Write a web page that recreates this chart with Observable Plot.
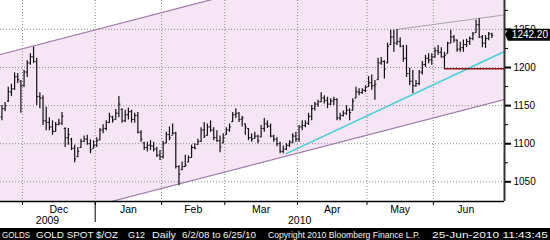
<!DOCTYPE html>
<html><head><meta charset="utf-8">
<script src="https://cdn.jsdelivr.net/npm/d3@7"></script>
<script src="https://cdn.jsdelivr.net/npm/@observablehq/plot@0.6"></script>
<style>
html,body{margin:0;padding:0;background:#fff;}
#wrap{position:relative;width:550px;height:240px;overflow:hidden;font-family:"Liberation Sans",Arial,sans-serif;}
#chart{position:absolute;left:0;top:0;}
#footer{position:absolute;left:0;top:228px;width:550px;height:12px;background:#000;}
</style></head><body>
<div id="wrap"><div id="chart"></div>
<svg id="footer" width="550" height="12"></svg>
</div>
<script>
// Daily OHLC, gold spot, first bar = 20 Nov 2009 (trading-day index -7, 0 = 1 Dec 2009)
const firstIndex = -7;
const opens = [1135,1146,1156,1168,1172,1188,1182,1176,1194,1206,1214,1208,1162,1160,1130,1128,1122,1116,1125,1127,1120,1108,1106,1094,1083,1095,1103,1106,1100,1094,
1098,1105,1118,1120,1128,1135,1132,1140,1145,1130,1138,1142,1132,1137,1115,1101,1095,1098,1097,1093,1085,1083,
1101,1112,1111,1114,1070,1066,1070,1076,1082,1095,1099,1103,1118,1111,1122,1118,1108,1104,1101,
1112,1118,1129,1138,1140,1132,1126,1120,1108,1107,1110,1109,1120,1126,1123,1110,1106,1100,1090,1093,1098,1102,1110,
1106,1122,1124,1127,1136,1146,1152,1155,1160,1157,1152,1156,1158,1134,1137,1140,1144,1144,1160,1168,1167,1170,
1175,1180,1176,1184,1206,1208,1206,1230,1240,1232,1234,1228,1212,1192,1182,1176,1179,1194,1204,1212,1210,
1214,1222,1220,1214,1218,1232,1240,1236,1224,1226,1230,1234,1238,1246,1256,1240,1232,1238,1244];
const highs = [1150,1154,1174,1178,1193,1192,1183,1196,1209,1218,1227,1212,1167,1163,1148,1134,1130,1128,1132,1141,1121,1120,1107,1098,1095,1106,1110,1111,1105,1104,
1108,1120,1125,1130,1140,1136,1145,1162,1146,1144,1147,1144,1140,1141,1117,1102,1102,1104,1102,1095,1091,
1103,1115,1122,1126,1115,1071,1076,1085,1084,1098,1100,1106,1121,1128,1126,1130,1121,1117,1110,1113,
1121,1126,1141,1146,1141,1136,1126,1120,1113,1115,1111,1124,1133,1130,1126,1111,1108,1102,1097,1100,1104,1113,1115,
1124,1130,1130,1140,1150,1154,1157,1167,1163,1161,1159,1161,1159,1140,1143,1150,1146,1159,1174,1172,1172,1176,
1188,1190,1183,1212,1213,1209,1232,1249,1249,1250,1239,1229,1229,1199,1196,1183,1196,1208,1216,1218,1218,
1226,1229,1226,1220,1233,1249,1242,1236,1233,1236,1237,1240,1246,1262,1264,1242,1242,1246,1245];
const lows = [1130,1142,1154,1162,1170,1179,1140,1174,1187,1203,1205,1150,1146,1124,1117,1117,1111,1115,1124,1124,1095,1098,1091,1075,1082,1094,1102,1098,1087,1093,
1095,1104,1113,1117,1127,1127,1131,1134,1127,1128,1131,1127,1127,1113,1102,1091,1089,1091,1089,1082,1078,
1080,1100,1104,1111,1067,1045,1065,1069,1075,1081,1092,1098,1102,1107,1110,1115,1104,1102,1088,1100,
1111,1115,1128,1133,1128,1122,1111,1104,1102,1106,1100,1108,1115,1120,1108,1102,1096,1087,1087,1091,1095,1100,1102,
1102,1117,1121,1124,1130,1143,1148,1154,1152,1146,1150,1150,1130,1130,1135,1137,1130,1143,1159,1163,1165,1167,
1174,1170,1157,1183,1203,1185,1205,1229,1220,1229,1226,1207,1187,1176,1166,1174,1176,1190,1200,1205,1203,
1212,1216,1212,1198,1218,1231,1232,1220,1220,1220,1226,1229,1235,1245,1238,1226,1225,1235,1238];
const closes = [1146,1150,1168,1172,1188,1184,1176,1194,1206,1214,1208,1162,1160,1130,1128,1122,1116,1125,1127,1136,1108,1112,1094,1080,1090,1103,1106,1100,1092,1098,
1104,1118,1120,1128,1136,1131,1140,1152,1130,1138,1142,1132,1137,1115,1106,1095,1098,1097,1093,1085,1083,
1100,1112,1108,1114,1070,1060,1070,1072,1082,1095,1094,1103,1118,1110,1122,1118,1108,1104,1096,1108,
1118,1122,1138,1140,1132,1134,1122,1108,1106,1110,1104,1120,1126,1123,1110,1106,1100,1090,1093,1098,1102,1110,1106,
1122,1124,1127,1136,1146,1152,1155,1160,1157,1152,1156,1158,1134,1137,1140,1144,1141,1156,1168,1167,1170,1174,
1180,1176,1178,1206,1208,1198,1228,1240,1232,1234,1228,1212,1192,1182,1176,1179,1194,1204,1212,1210,1214,
1222,1220,1214,1216,1232,1240,1236,1224,1226,1230,1234,1238,1244,1256,1240,1232,1238,1244,1242.2];
const lastValue = 1242.20;

// axis labels
const monthStart = [0, 23, 44, 64, 87, 109, 130];
const monthEnd = [23, 44, 64, 87, 109, 130, 150.5];
const monthLabels = ["Dec", "Jan", "Feb", "Mar", "Apr", "May", "Jun"];
const yearLabels = ["2009", "2010"];
const yearPos = [7.9, 87.7];
const yearBoundary = 23;
const yTicks = [1050, 1100, 1150, 1200, 1250];
const yMinor = [1075, 1125, 1175, 1225, 1275];

// footer strip texts
const footerTexts = ["GOLDS", "GOLD SPOT $/OZ", "G12", "Daily", "6/2/08 to 6/25/10", "Copyright 2010 Bloomberg Finance L.P.", "25-Jun-2010 11:43:45"];
const footerLeft = [2, 36, 128, 152, 182, 268, 432];
const footerWidth = [28, 82, 17, 24, 74, 152, 116];

// trend lines (drawn on the chart)
const channelX = [-6.96, 152.5];
const channelUpper = [1217, 1389];
const channelLower = [986.5, 1158];
const resistX = [118.5, 152.5], resistY = [1250, 1269];
const supportX = [83.5, 152.5], supportY = [1087, 1221];
const floorX = [133.5, 152.5], floorY = [1198.5, 1198.5];

const xDomain = [-6.96, 152.5];
const yDomain = [1024.2, 1287.9];
const halfTick = 0.45;

const bars = highs.map((h, k) => ({xc: firstIndex + k + 0.5, open: opens[k], high: h, low: lows[k], close: closes[k]}));
const channel = channelX.map((x, k) => ({x, upper: channelUpper[k], lower: channelLower[k]}));
const pts = (xs, ys) => xs.map((x, k) => ({x, y: ys[k]}));
const monthMid = monthStart.map((s, k) => (s + monthEnd[k]) / 2);
const monthMap = new Map(monthMid.map((m, k) => [m, monthLabels[k]]));
const yearMap = new Map(yearPos.map((p, k) => [p, yearLabels[k]]));
const grid = {stroke: "#8c8c8c", strokeOpacity: 1, strokeDasharray: "1,2", strokeWidth: 1};

const chart = Plot.plot({
  width: 550, height: 228,
  marginLeft: 0, marginRight: 46, marginTop: 0, marginBottom: 27,
  x: {type: "linear", domain: xDomain},
  y: {type: "linear", domain: yDomain},
  style: {fontFamily: "Liberation Sans, Arial, sans-serif", fontSize: "10px", color: "#000", background: "#fff"},
  marks: [
    Plot.areaY(channel, {x: "x", y1: "lower", y2: "upper", fill: "#f5e5f5", clip: true}),
    Plot.gridY(yTicks, grid),
    Plot.gridX(monthStart, grid),
    Plot.line(channel, {x: "x", y: "upper", stroke: "#9d7aa8", strokeWidth: 1.2, clip: true}),
    Plot.line(channel, {x: "x", y: "lower", stroke: "#9d7aa8", strokeWidth: 1.2, clip: true}),
    Plot.line(pts(resistX, resistY), {x: "x", y: "y", stroke: "#a6a6a6", strokeWidth: 1}),
    Plot.line(pts(supportX, supportY), {x: "x", y: "y", stroke: "#45cfd6", strokeWidth: 1.5}),
    Plot.line(pts(floorX, floorY), {x: "x", y: "y", stroke: "#8e1414", strokeWidth: 1.5}),
    Plot.ruleX(bars, {x: "xc", y1: "low", y2: "high", stroke: "#111", strokeWidth: 1.2}),
    Plot.link(bars, {x1: d => d.xc - halfTick, x2: "xc", y1: "open", y2: "open", stroke: "#111", strokeWidth: 1}),
    Plot.link(bars, {x1: "xc", x2: d => d.xc + halfTick, y1: "close", y2: "close", stroke: "#111", strokeWidth: 1}),
    Plot.ruleY([yDomain[0]], {stroke: "#000", strokeWidth: 1.5}),
    Plot.ruleX([xDomain[1]], {stroke: "#333", strokeWidth: 2}),
    Plot.axisY({anchor: "right", ticks: yTicks, tickSize: 6, tickPadding: 3, strokeWidth: 2, fontSize: 10, label: null, tickFormat: d => String(d)}),
    Plot.axisY({anchor: "right", ticks: yMinor, tickSize: 3, tickFormat: () => "", label: null}),
    Plot.axisX({ticks: monthStart, tickSize: 4, tickFormat: () => "", label: null}),
    Plot.axisX({ticks: monthMid, tickSize: 0, tickPadding: 4, fontSize: 10.5, tickFormat: d => monthMap.get(d), label: null}),
    Plot.axisX({ticks: yearPos, tickSize: 0, tickPadding: 15, fontSize: 10.5, tickFormat: d => yearMap.get(d), label: null}),
    Plot.axisX({ticks: [yearBoundary], tickSize: 21, tickFormat: () => "", label: null})
  ]
});
document.getElementById("chart").appendChild(chart);

// last-value tag on the right axis
const svg = d3.select(chart);
const yv = chart.scale("y").apply(lastValue);
const xr = chart.scale("x").apply(xDomain[1]);
svg.append("path")
  .attr("d", `M${xr + 1},${yv} L${xr + 4},${yv - 6} L550,${yv - 6} L550,${yv + 6} L${xr + 4},${yv + 6} Z`)
  .attr("fill", "#000");
svg.append("text")
  .attr("x", 548).attr("y", yv).attr("dy", "0.35em")
  .attr("text-anchor", "end").attr("fill", "#fff")
  .attr("font-size", 10).attr("font-family", "Liberation Sans, Arial, sans-serif")
  .text(lastValue.toFixed(2));

// footer strip
const foot = d3.select("#footer");
footerTexts.forEach((t, k) => {
  foot.append("text")
    .attr("x", footerLeft[k]).attr("y", 9.5)
    .attr("fill", "#f2f2f2")
    .attr("font-size", 9).attr("font-family", "Liberation Sans, Arial, sans-serif")
    .attr("textLength", footerWidth[k]).attr("lengthAdjust", "spacingAndGlyphs")
    .text(t);
});
</script>
</body></html>
